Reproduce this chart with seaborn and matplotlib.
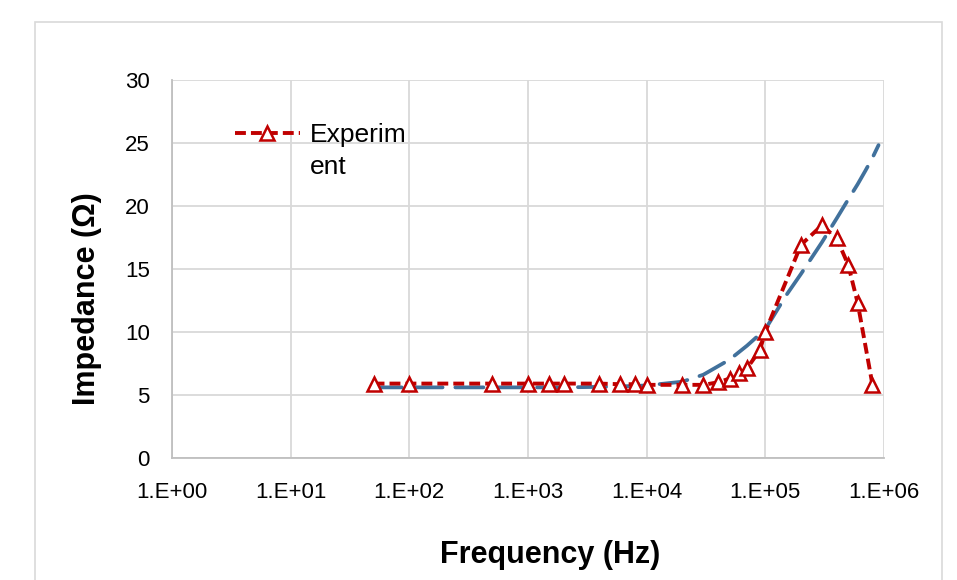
import matplotlib
matplotlib.use("Agg")
import matplotlib.pyplot as plt
from matplotlib.patches import Rectangle
from matplotlib.ticker import FixedLocator, NullLocator
import seaborn as sns
import pandas as pd

# ---- data ----
exp_freq = [50, 100, 500, 1000, 1500, 2000, 4000, 6000, 8000, 10000,
            20000, 30000, 40000, 50000, 60000, 70000, 90000, 100000,
            200000, 300000, 400000, 500000, 600000, 800000]
exp_z = [5.9, 5.9, 5.9, 5.9, 5.9, 5.9, 5.9, 5.85, 5.85, 5.8,
         5.8, 5.8, 6.0, 6.3, 6.7, 7.1, 8.55, 10.0,
         16.9, 18.45, 17.4, 15.3, 12.3, 5.8]

model_freq = [50, 100, 200, 500, 1000, 2000, 5000, 10000, 20000, 30000,
              50000, 70000, 100000, 150000, 200000, 300000, 400000,
              500000, 600000, 700000, 800000, 900000]
model_z = [5.6, 5.6, 5.6, 5.6, 5.6, 5.6, 5.65, 5.75, 6.05, 6.6,
           7.8, 8.9, 10.2, 12.9, 14.6, 17.1, 19.0,
           20.5, 21.7, 22.8, 23.8, 24.8]

xtick_vals = [1, 10, 100, 1000, 10000, 100000, 1000000]
xtick_labels = ["1.E+00", "1.E+01", "1.E+02", "1.E+03", "1.E+04", "1.E+05", "1.E+06"]
ytick_vals = [0, 5, 10, 15, 20, 25, 30]

legend_label = "Experim\nent"
xlabel = "Frequency (Hz)"
ylabel = "Impedance (\u03a9)"

# ---- style ----
sns.set_theme(style="white")
plt.rcParams['font.family'] = ['Liberation Sans', 'DejaVu Sans']

RED = "#c00000"
BLUE = "#41719c"
GRID = "#d9d9d9"

fig = plt.figure(figsize=(9.57, 5.8), dpi=100)
fig.patch.set_facecolor("white")
fig.patches.append(Rectangle((35 / 957, -0.2), (942 - 35) / 957, 1 - 22 / 580 + 0.2,
                             transform=fig.transFigure, fill=False,
                             edgecolor=GRID, linewidth=1.2, zorder=0))

ax = fig.add_axes([0.1797, 0.2103, 0.7440, 0.6526])

df_model = pd.DataFrame({"f": model_freq, "z": model_z})
df_exp = pd.DataFrame({"f": exp_freq, "z": exp_z})

sns.lineplot(data=df_model, x="f", y="z", ax=ax, color=BLUE, linewidth=2.7,
             linestyle=(0, (7.5, 3.4)), solid_capstyle="round",
             dash_capstyle="round", zorder=3)
sns.lineplot(data=df_exp, x="f", y="z", ax=ax, color=RED, linewidth=2.8,
             linestyle=(0, (2.8, 1.3)), dash_capstyle="butt",
             marker="^", markersize=10.5, markerfacecolor="white",
             markeredgecolor=RED, markeredgewidth=1.8, zorder=4,
             label=legend_label)

ax.set_xscale("log")
ax.set_xlim(1, 1e6)
ax.set_ylim(0, 30)
ax.xaxis.set_major_locator(FixedLocator(xtick_vals))
ax.xaxis.set_minor_locator(NullLocator())
ax.set_xticklabels(xtick_labels)
ax.set_yticks(ytick_vals)
ax.set_yticklabels([str(v) for v in ytick_vals])

ax.grid(True, color=GRID, linewidth=1.3)
ax.set_axisbelow(True)
for side in ["top", "right"]:
    ax.spines[side].set_visible(False)
for side in ["left", "bottom"]:
    ax.spines[side].set_color("#bfbfbf")
    ax.spines[side].set_linewidth(1.3)

ax.tick_params(axis="x", length=0, pad=17, labelsize=16, labelcolor="black")
ax.tick_params(axis="y", length=0, pad=16, labelsize=16, labelcolor="black")

ax.set_xlabel(xlabel, fontsize=22, fontweight="bold", color="black", va="center")
ax.xaxis.set_label_coords(0.531, -0.256)
ax.set_ylabel(ylabel, fontsize=22, fontweight="bold", color="black", va="center")
ax.yaxis.set_label_coords(-0.1187, 0.42)

leg = ax.legend(loc="upper left", bbox_to_anchor=(0.0885, 0.884), frameon=False,
                fontsize=19, handlelength=2.45, handletextpad=0.38,
                borderpad=0, borderaxespad=0, labelcolor="black")
for col in leg._legend_handle_box.get_children():
    for row in col.get_children():
        row.align = "top"
for t in leg.get_texts():
    t.set_linespacing(1.4)

fig.savefig("out.png", dpi=100, facecolor="white")
